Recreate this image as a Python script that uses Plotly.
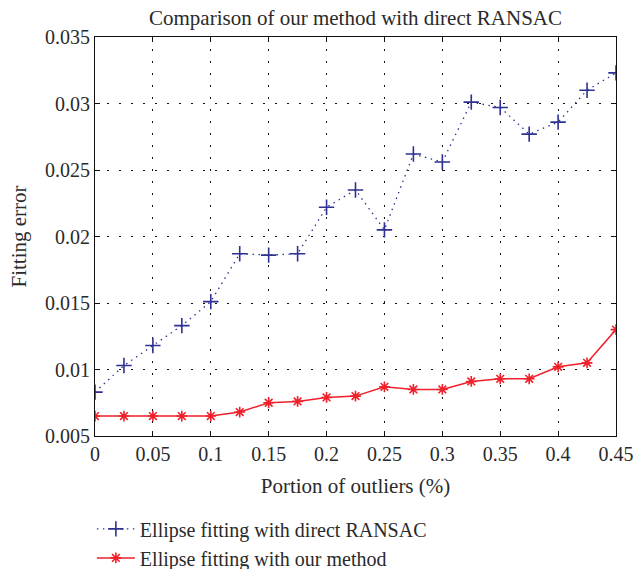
import plotly.graph_objects as go

outliers = [0, 0.025, 0.05, 0.075, 0.1, 0.125, 0.15, 0.175, 0.2, 0.225,
            0.25, 0.275, 0.3, 0.325, 0.35, 0.375, 0.4, 0.425, 0.45]
ransac_err = [0.0083, 0.0103, 0.0118, 0.0133, 0.0151, 0.0187, 0.0186, 0.0187, 0.0222, 0.0235,
              0.0205, 0.0262, 0.0256, 0.0301, 0.0297, 0.0277, 0.0286, 0.0310, 0.0323]
our_err = [0.0065, 0.0065, 0.0065, 0.0065, 0.0065, 0.0068, 0.0075, 0.0076, 0.0079, 0.0080,
           0.0087, 0.0085, 0.0085, 0.0091, 0.0093, 0.0093, 0.0102, 0.0105, 0.0130]
x_ticks = [0, 0.05, 0.1, 0.15, 0.2, 0.25, 0.3, 0.35, 0.4, 0.45]
x_tick_text = ["0", "0.05", "0.1", "0.15", "0.2", "0.25", "0.3", "0.35", "0.4", "0.45"]
y_ticks = [0.005, 0.01, 0.015, 0.02, 0.025, 0.03, 0.035]
y_tick_text = ["0.005", "0.01", "0.015", "0.02", "0.025", "0.03", "0.035"]

FONT = "Liberation Serif"
TXT = "#2a2a2a"
blue = "#2e3192"
red = "#f0202a"

fig = go.Figure()
fig.add_trace(go.Scatter(
    x=outliers, y=ransac_err, mode="lines+markers",
    name="Ellipse fitting with direct RANSAC",
    line=dict(color=blue, width=1.3, dash="1.5px,4.5px"),
    marker=dict(symbol="cross-thin", size=11, line=dict(color=blue, width=1.6), color=blue),
))
fig.add_trace(go.Scatter(
    x=outliers, y=our_err, mode="lines+markers",
    name="Ellipse fitting with our method",
    line=dict(color=red, width=1.5),
    marker=dict(symbol="asterisk-open", size=9, line=dict(color=red, width=1.6), color=red),
))

axis_common = dict(
    showline=True, linecolor="#111", linewidth=1.2, mirror="ticks",
    ticks="inside", ticklen=5, tickcolor="#111",
    showgrid=True, gridcolor="#111", griddash="1.5px,10.5px", gridwidth=1.2,
    zeroline=False, tickfont=dict(family=FONT, size=20, color=TXT),
)
fig.update_xaxes(range=[0, 0.45], tickvals=x_ticks, ticktext=x_tick_text,
                 title=dict(text="Portion of outliers (%)", font=dict(family=FONT, size=21, color=TXT), standoff=14),
                 **axis_common)
fig.update_yaxes(range=[0.005, 0.035], tickvals=y_ticks, ticktext=y_tick_text,
                 title=dict(text="Fitting error", font=dict(family=FONT, size=21, color=TXT), standoff=12),
                 **axis_common)

fig.update_layout(
    width=636, height=569,
    margin=dict(l=95, r=20, t=37, b=133, autoexpand=False),
    paper_bgcolor="white", plot_bgcolor="white",
    title=dict(text="Comparison of our method with direct RANSAC", x=(95 + 616) / 2 / 636, xanchor="center",
               y=1 - 18 / 569, yanchor="middle", font=dict(family=FONT, size=21, color=TXT)),
    font=dict(family=FONT, color=TXT),
    legend=dict(x=-0.006, xanchor="left", y=-0.184, yanchor="top", bgcolor="rgba(0,0,0,0)",
                font=dict(family=FONT, size=20, color=TXT), tracegroupgap=0, itemwidth=38),
    showlegend=True,
)

fig.write_html("out.html")
